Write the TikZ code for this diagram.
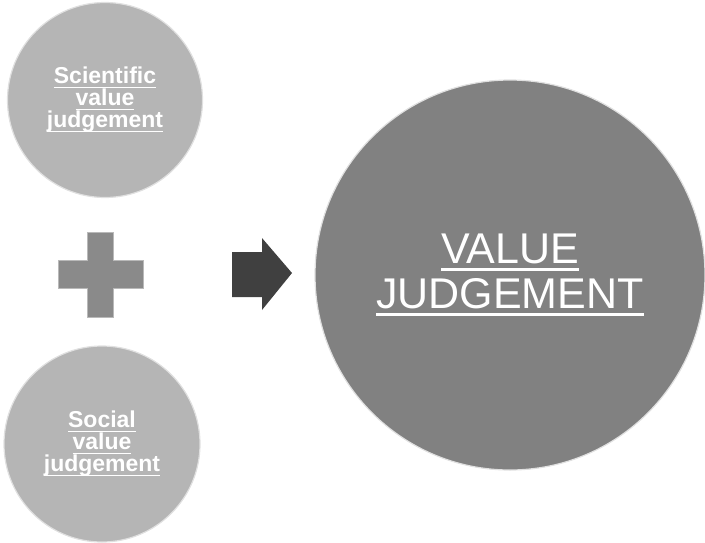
\documentclass[tikz,border=0pt]{standalone}
\usepackage{fontspec}
\setmainfont{Liberation Sans}
\usetikzlibrary{positioning}
\definecolor{lightdisc}{RGB}{181,181,181}
\definecolor{darkdisc}{RGB}{129,129,129}
\definecolor{plusgray}{RGB}{138,138,138}
\definecolor{arrowgray}{RGB}{64,64,64}
\newcommand{\undl}[1]{\setbox0\hbox{#1}\rlap{\vrule width\wd0 height -0.12em depth 0.19em}\box0}

\begin{document}
\begin{tikzpicture}[x=1pt, y=-1pt]
    \tikzset{
        disc/.style={circle, fill=#1, draw=white!88!black, line width=1.2pt,
            inner sep=0pt, text=white, align=center},
        smalltext/.style={font=\bfseries\fontsize{23}{22}\selectfont},
        bigtext/.style={font=\fontsize{43}{45}\selectfont}
    }
    \useasboundingbox (0,0) rectangle (705,542);

    % Input circles
    \node[disc=lightdisc, minimum size=195pt, smalltext] (sci) at (105,100)
        {\undl{Scientific}\\ \undl{value}\\ \undl{judgement}};
    \node[disc=lightdisc, minimum size=196pt, smalltext] (soc) at (102,444)
        {\undl{Social}\\ \undl{value}\\ \undl{judgement}};

    % Plus sign
    \fill[plusgray, draw=gray!55, line width=0.8pt]
        (87,232) -- (113,232) -- (113,260) -- (143,260) -- (143,288)
        -- (113,288) -- (113,317) -- (87,317) -- (87,288) -- (58,288)
        -- (58,260) -- (87,260) -- cycle;

    % Arrow
    \fill[arrowgray]
        (232,252) -- (262,252) -- (262,238) -- (292,273) -- (262,310)
        -- (262,297) -- (232,297) -- cycle;

    % Result circle
    \node[disc=darkdisc, minimum size=390pt, bigtext] (val) at (510,275)
        {\undl{VALUE}\\ \undl{JUDGEMENT}};
\end{tikzpicture}
\end{document}
